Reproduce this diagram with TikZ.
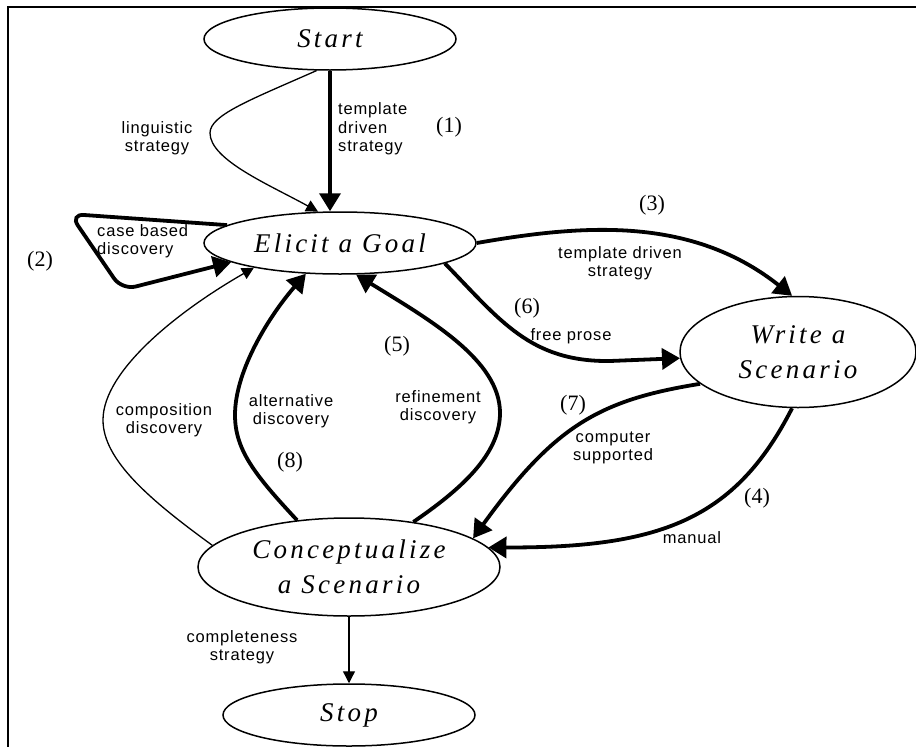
\documentclass[tikz,border=0pt]{standalone}
\usepackage{fontspec}
\setmainfont{Liberation Serif}
\newfontfamily\labfont[LetterSpace=5]{Liberation Sans}
\newfontfamily\titfont[LetterSpace=12]{Liberation Serif}
\usetikzlibrary{shapes.geometric,arrows.meta}
\begin{document}
\begin{tikzpicture}[x=1pt,y=-1pt,
  state/.style={ellipse,draw,line width=1.5pt,inner sep=0pt,align=center,
    font=\titfont\itshape\fontsize{27}{35}\selectfont},
  lab/.style={font=\labfont\fontsize{16.5}{18.5}\selectfont,align=center,inner sep=0pt},
  num/.style={font=\fontsize{22}{26}\selectfont,inner sep=0pt},
  thinarr/.style={line width=1.3pt,-{Triangle[length=12pt,width=12pt]}},
  thickarr/.style={line width=3.8pt,-{Triangle[length=18pt,width=21pt]}},
  frame/.style={line width=2pt}]
\useasboundingbox (0,0) rectangle (916,747);
\coordinate (fa) at (8,747);
\coordinate (fb) at (8,7);
\coordinate (fc) at (916,7);
\draw[frame] (fa) -- (fb) -- (fc);

\node[state,minimum width=252pt,minimum height=62pt] (start) at (330,39) {Start};
\node[state,minimum width=272pt,minimum height=62pt] (elicit) at (340,243) {Elicit a Goal};
\node[state,minimum width=236pt,minimum height=111pt] (write) at (798,352) {Write a\\Scenario};
\node[state,minimum width=302pt,minimum height=98pt] (conc) at (349,567) {Conceptualize\\a Scenario};
\node[state,minimum width=252pt,minimum height=62pt] (stop) at (349,715) {Stop};

% (1) template driven
\draw[thickarr] (start.south) -- (start.south |- elicit.north);
% linguistic
\draw[thinarr] (start.247) .. controls (250,100) and (210,115) .. (210,133)
  .. controls (210,160) and (270,185) .. (elicit.125);
% (2) case based loop
\draw[thickarr,rounded corners=14pt] (elicit.171) -- (70,214) -- (122,290) -- (elicit.190);
% (3)
\draw[thickarr] (elicit.east) .. controls (580,225) and (690,215) .. (write.96);
% (6)
\draw[thickarr] (elicit.-11) .. controls (500,320) and (530,362) .. (610,361) -- (write.183);
% (7)
\draw[thickarr] (write.198) .. controls (600,400) and (555,425) .. (conc.13);
% (4)
\draw[thickarr] (write.264) .. controls (735,520) and (660,548) .. (conc.8);
% (5)
\draw[thickarr] (conc.35) .. controls (460,490) and (500,455) .. (500,413)
  .. controls (500,360) and (430,320) .. (elicit.297);
% (8)
\draw[thickarr] (conc.138) .. controls (255,475) and (235,450) .. (235,415)
  .. controls (235,370) and (270,315) .. (elicit.222);
% composition
\draw[thinarr] (conc.171) .. controls (150,500) and (103,460) .. (103,420)
  .. controls (103,370) and (180,310) .. (elicit.196);
% completeness
\draw[thinarr] (conc.south) -- (stop.north);

% labels
\node[lab] (l1) at (157,138) {linguistic\\strategy};
\node[lab,anchor=west,align=left] (l2) at (338,129) {template\\driven\\strategy};
\node[num] (n1) at (449,127) {(1)};
\node[lab,anchor=west,align=left] (l3) at (97,241) {case based\\discovery};
\node[num] (n2) at (40,261) {(2)};
\node[num] (n3) at (652,205) {(3)};
\node[lab] (l4) at (620,263) {template driven\\strategy};
\node[num] (n6) at (527,308) {(6)};
\node[lab] (l5) at (571,336) {free prose};
\node[num] (n7) at (573,405) {(7)};
\node[lab] (l6) at (613,448) {computer\\supported};
\node[num] (n4) at (757,498) {(4)};
\node[lab] (l7) at (692,538) {manual};
\node[num] (n5) at (397,346) {(5)};
\node[lab] (l8) at (438,407) {refinement\\discovery};
\node[lab] (l9) at (291,411) {alternative\\discovery};
\node[num] (n8) at (290,462) {(8)};
\node[lab] (l10) at (164,420) {composition\\discovery};
\node[lab] (l11) at (242,647) {completeness\\strategy};
\end{tikzpicture}
\end{document}
